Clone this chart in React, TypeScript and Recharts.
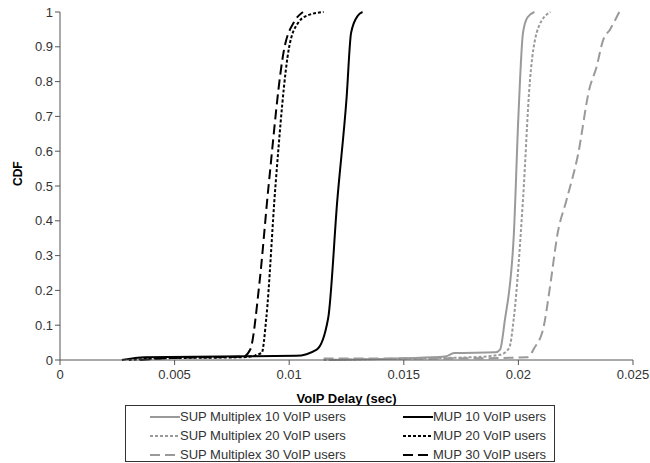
import React from 'react';
import { LineChart, Line, XAxis, YAxis } from 'recharts';

// CDF of VoIP delay
const supMux10Delay = [0.0118, 0.015, 0.0168, 0.0172, 0.019, 0.0192, 0.0194, 0.0198, 0.02, 0.0202, 0.0204, 0.0207];
const supMux10Cdf = [0, 0.005, 0.01, 0.02, 0.022, 0.03, 0.11, 0.36, 0.7, 0.94, 0.985, 1];

const supMux20Delay = [0.0115, 0.015, 0.018, 0.0192, 0.0196, 0.0198, 0.0202, 0.0205, 0.0209, 0.0214];
const supMux20Cdf = [0, 0.004, 0.008, 0.015, 0.035, 0.12, 0.46, 0.8, 0.96, 1];

const supMux30Delay = [0.0115, 0.018, 0.0204, 0.0207, 0.0211, 0.0214, 0.0217, 0.0221, 0.0226, 0.0231, 0.0234, 0.0237, 0.024, 0.0244];
const supMux30Cdf = [0.004, 0.005, 0.008, 0.035, 0.095, 0.22, 0.36, 0.46, 0.59, 0.78, 0.84, 0.92, 0.95, 1];

const mup10Delay = [0.0027, 0.0037, 0.007, 0.0103, 0.0112, 0.0117, 0.0121, 0.0125, 0.0127, 0.013, 0.0132];
const mup10Cdf = [0, 0.008, 0.01, 0.012, 0.03, 0.12, 0.46, 0.75, 0.94, 0.99, 1];

const mup20Delay = [0.003, 0.0045, 0.008, 0.0088, 0.009, 0.0094, 0.01, 0.0104, 0.0108, 0.0115];
const mup20Cdf = [0, 0.005, 0.008, 0.02, 0.12, 0.5, 0.9, 0.97, 0.99, 1];

const mup30Delay = [0.0035, 0.005, 0.008, 0.0083, 0.0087, 0.0091, 0.0098, 0.0102, 0.0106];
const mup30Cdf = [0, 0.006, 0.01, 0.03, 0.22, 0.5, 0.9, 0.97, 1];

const xTicks = [0, 0.005, 0.01, 0.015, 0.02, 0.025];
const xTickLabels = ['0', '0.005', '0.01', '0.015', '0.02', '0.025'];
const yTicks = [0, 0.1, 0.2, 0.3, 0.4, 0.5, 0.6, 0.7, 0.8, 0.9, 1];

const toPoints = (xs: number[], ys: number[]) => xs.map((x, i) => ({ x, y: ys[i] }));

const series = [
  { name: 'SUP Multiplex 10 VoIP users', data: toPoints(supMux10Delay, supMux10Cdf), color: '#9a9a9a', dash: undefined },
  { name: 'MUP 10 VoIP users', data: toPoints(mup10Delay, mup10Cdf), color: '#000000', dash: undefined },
  { name: 'SUP Multiplex 20 VoIP users', data: toPoints(supMux20Delay, supMux20Cdf), color: '#9a9a9a', dash: '3 2' },
  { name: 'MUP 20 VoIP users', data: toPoints(mup20Delay, mup20Cdf), color: '#000000', dash: '3 2' },
  { name: 'SUP Multiplex 30 VoIP users', data: toPoints(supMux30Delay, supMux30Cdf), color: '#9a9a9a', dash: '10 5' },
  { name: 'MUP 30 VoIP users', data: toPoints(mup30Delay, mup30Cdf), color: '#000000', dash: '10 5' },
];

const font = '"Liberation Sans", Arial, sans-serif';

function XTick(props: any) {
  const { x, y, index } = props;
  return (
    <text x={x} y={y + 12} textAnchor="middle" fill="#333" fontSize={13} fontFamily={font}>
      {xTickLabels[index]}
    </text>
  );
}

function LegendBox() {
  return (
    <div
      style={{
        position: 'absolute',
        left: 125,
        top: 405,
        width: 430,
        height: 57,
        border: '1px solid #333',
        boxSizing: 'border-box',
        display: 'grid',
        gridTemplateColumns: '253px 177px',
        gridAutoRows: '19px',
        paddingTop: 1,
        fontFamily: font,
        fontSize: 13,
        color: '#333',
      }}
    >
      {series.map((s) => (
        <div key={s.name} style={{ display: 'flex', alignItems: 'center', paddingLeft: 24 }}>
          <svg width={30} height={10}>
            <line x1={0} y1={5} x2={30} y2={5} stroke={s.color} strokeWidth={2} strokeDasharray={s.dash} />
          </svg>
          <span style={{ whiteSpace: 'nowrap' }}>{s.name}</span>
        </div>
      ))}
    </div>
  );
}

export default function App() {
  return (
    <div style={{ position: 'relative', width: 650, height: 463 }}>
      <style>{'body { margin: 0; } .recharts-wrapper, .recharts-surface { overflow: visible !important; }'}</style>
      <LineChart width={650} height={463} margin={{ top: 12, right: 17, bottom: 58, left: 0 }}>
        <XAxis
          type="number"
          dataKey="x"
          domain={[0, 0.025]}
          ticks={xTicks}
          allowDuplicatedCategory={false}
          height={45}
          tickSize={5}
          interval={0}
          tick={<XTick />}
          stroke="#555"
          label={{ value: 'VoIP Delay (sec)', position: 'insideBottom', offset: 2, fill: '#000', fontSize: 13, fontWeight: 'bold', fontFamily: font }}
        />
        <YAxis
          type="number"
          dataKey="y"
          domain={[0, 1]}
          ticks={yTicks}
          width={60}
          tickSize={5}
          interval={0}
          tick={{ fill: '#333', fontSize: 13, fontFamily: font }}
          stroke="#555"
          label={{ value: 'CDF', angle: -90, position: 'insideLeft', offset: 18, fill: '#000', fontSize: 12, fontWeight: 'bold', fontFamily: font }}
        />
        {series.map((s) => (
          <Line
            key={s.name}
            data={s.data}
            dataKey="y"
            name={s.name}
            type="monotone"
            stroke={s.color}
            strokeWidth={2}
            strokeDasharray={s.dash}
            dot={false}
            isAnimationActive={false}
          />
        ))}
      </LineChart>
      <LegendBox />
    </div>
  );
}
